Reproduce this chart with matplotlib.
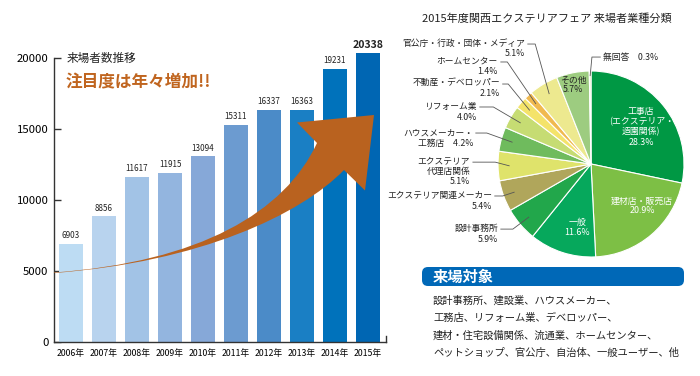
import numpy as np
import matplotlib
matplotlib.use("Agg")
import matplotlib.pyplot as plt
from matplotlib.path import Path
from matplotlib.patches import PathPatch, FancyBboxPatch

plt.rcParams['font.family'] = ['Noto Sans CJK JP', 'DejaVu Sans']

# visitor counts per year
years = ['2006年', '2007年', '2008年', '2009年', '2010年',
         '2011年', '2012年', '2013年', '2014年', '2015年']
visitors = [6903, 8856, 11617, 11915, 13094, 15311, 16337, 16363, 19231, 20338]
bar_colors = ['#bddcf3', '#b8d3ee', '#a2c3e6', '#93b5df', '#86a8d8',
              '#6c9bd0', '#4b8bc8', '#1a7fc4', '#0072bb', '#0066b3']

# visitor categories (clockwise from top)
cat_names = ['工事店', '建材店・販売店', '一般', '設計事務所', 'エクステリア関連メーカー',
             'エクステリア代理店関係', 'ハウスメーカー・工務店', 'リフォーム業',
             '不動産・デベロッパー', 'ホームセンター', '官公庁・行政・団体・メディア',
             'その他', '無回答']
cat_share = [28.3, 20.9, 11.6, 5.9, 5.4, 5.1, 4.2, 4.0, 2.1, 1.4, 5.1, 5.7, 0.3]
cat_colors = ['#009844', '#7dbf45', '#06a85c', '#22a74b', '#b0a65b',
              '#dfe36b', '#6fbb5d', '#c6dc73', '#f4e36a', '#f0b950',
              '#ede98f', '#9dcc80', '#e6eebf']

visitor_lines = ['設計事務所、建設業、ハウスメーカー、',
                 '工務店、リフォーム業、デベロッパー、',
                 '建材・住宅設備関係、流通業、ホームセンター、',
                 'ペットショップ、官公庁、自治体、一般ユーザー、他']

W, H = 700, 376
fig = plt.figure(figsize=(7, 3.76), dpi=100)

def fx(px):
    return px / W

def fy(py):
    return 1 - py / H

# ---------------- bar chart ----------------
ax = fig.add_axes([fx(54), fy(342), (386 - 54) / W, (342 - 58) / H])
x = np.arange(len(years))
ax.bar(x, visitors, width=0.73, color=bar_colors, clip_on=False, zorder=2)
ax.set_xlim(-0.515, 9.545)
ax.set_ylim(0, 20000)
ax.set_yticks([0, 5000, 10000, 15000, 20000])
ax.tick_params(axis='y', direction='in', length=5, width=1, color='#333333',
               labelsize=8.2, pad=4)
ax.set_xticks(x)
ax.set_xticklabels(years)
ax.tick_params(axis='x', length=0, labelsize=6.3, pad=5)
for s in ['top', 'right']:
    ax.spines[s].set_visible(False)
for s in ['left', 'bottom']:
    ax.spines[s].set_color('#333333')
    ax.spines[s].set_linewidth(1)
ax.plot([1, 1], [0, 0.02], transform=ax.transAxes, color='#333333', lw=1, clip_on=False)

for i, v in enumerate(visitors):
    if i == len(visitors) - 1:
        ax.text(i, v + 250, f'{v}', ha='center', va='bottom', fontsize=7.6,
                fontweight='bold', color='#222222')
    else:
        ax.text(i, v + 250, f'{v}', ha='center', va='bottom', fontsize=5.8,
                color='#222222')

ax.text(fx(67), fy(58), '来場者数推移', transform=fig.transFigure, fontsize=8.4,
        va='center', ha='left', color='#222222')
ax.text(fx(66), fy(82), '注目度は年々増加!!', transform=fig.transFigure, fontsize=12,
        fontweight='bold', va='center', ha='left', color='#c0651f')

# curved arrow (decoration), in pixel space
def P(px, py):
    return (fx(px), fy(py))

verts = [P(54, 272.5), P(200, 262), P(285, 212), P(317, 143),
         P(297, 122.5), P(374, 115), P(365, 190.5), P(344, 170),
         P(300, 215), P(200, 262), P(54, 273), P(54, 272.5)]
codes = [Path.MOVETO, Path.CURVE4, Path.CURVE4, Path.CURVE4,
         Path.LINETO, Path.LINETO, Path.LINETO, Path.LINETO,
         Path.CURVE4, Path.CURVE4, Path.CURVE4, Path.CLOSEPOLY]
arrow = PathPatch(Path(verts, codes), transform=fig.transFigure,
                  facecolor='#b9621f', edgecolor='none', zorder=5)
fig.patches.append(arrow)

# ---------------- pie chart ----------------
cx, cy, r = 591, 164, 93
pax = fig.add_axes([fx(cx - r), fy(cy + r), 2 * r / W, 2 * r / H])
wedges, _ = pax.pie(cat_share, colors=cat_colors, startangle=90, counterclock=False,
                    radius=1, wedgeprops=dict(edgecolor='white', linewidth=0.8))
pax.set_xlim(-1, 1)
pax.set_ylim(-1, 1)
pax.set_aspect('auto')
pax.axis('off')

fig.text(fx(547), fy(19), '2015年度関西エクステリアフェア 来場者業種分類',
         ha='center', va='center', fontsize=8, color='#222222')

# mid angles of wedges
cum = np.cumsum([0] + cat_share[:-1])
mid = 90 - (cum + np.array(cat_share) / 2) * 3.6
mid_rad = np.deg2rad(mid)

# inside labels
inside = {0: ('工事店\n(エクステリア・\n造園関係)\n28.3%', 0.54, 0.40, 'white'),
          1: ('建材店・販売店\n20.9%', 0.55, -0.45, 'white'),
          2: ('一般\n11.6%', -0.15, -0.68, 'white'),
          11: ('その他\n5.7%', -0.19, 0.85, '#222222')}
for i, (txt, tx, ty, c) in inside.items():
    pax.text(tx, ty, txt, ha='center', va='center', fontsize=6.4, color=c,
             linespacing=1.15)

# outside labels: text, text right x, text center y, line y, elbow x
outside = {10: ('官公庁・行政・団体・メディア\n5.1%', -0.71, 1.242, 1.29, -0.60),
           9: ('ホームセンター\n1.4%', -1.00, 1.054, 1.097, -0.90),
           8: ('不動産・デベロッパー\n2.1%', -0.98, 0.817, 0.86, -0.89),
           7: ('リフォーム業\n4.0%', -1.226, 0.559, 0.613, -1.05),
           6: ('ハウスメーカー・\n工務店　4.2%', -1.269, 0.280, 0.333, -1.12),
           5: ('エクステリア\n代理店関係\n5.1%', -1.30, -0.081, 0.02, -1.03),
           4: ('エクステリア関連メーカー\n5.4%', -1.065, -0.398, -0.344, -0.95),
           3: ('設計事務所\n5.9%', -1.00, -0.753, -0.70, -0.84)}
for i, (txt, tx, ty, ly, ex) in outside.items():
    pax.text(tx, ty, txt, ha='right', va='center', fontsize=6.3, color='#222222',
             linespacing=1.2, multialignment='right')
    wx, wy = 0.88 * np.cos(mid_rad[i]), 0.88 * np.sin(mid_rad[i])
    pax.plot([tx + 0.03, ex, wx], [ly, ly, wy], color='#555555', lw=0.6,
             clip_on=False)

# no answer
wx, wy = 0.95 * np.cos(mid_rad[12]), 0.95 * np.sin(mid_rad[12])
pax.plot([wx, 0.01, 0.1], [wy, 1.15, 1.15], color='#555555', lw=0.6, clip_on=False)
pax.text(0.13, 1.15, '無回答　0.3%', ha='left', va='center', fontsize=6.3,
         color='#222222')

# ---------------- visitor box ----------------
box = FancyBboxPatch((4.22, (H - 286) / 100), 2.62, 0.19,
                     boxstyle='round,pad=0,rounding_size=0.06',
                     transform=fig.dpi_scale_trans, facecolor='#0068b7',
                     edgecolor='none')
fig.patches.append(box)
fig.text(fx(433), fy(277), '来場対象', ha='left', va='center', fontsize=11,
         fontweight='bold', color='white')
for k, line in enumerate(visitor_lines):
    fig.text(fx(433), fy(301 + 17.3 * k), line, ha='left', va='center',
             fontsize=7.4, color='#222222')

fig.savefig('out.png', dpi=100)
